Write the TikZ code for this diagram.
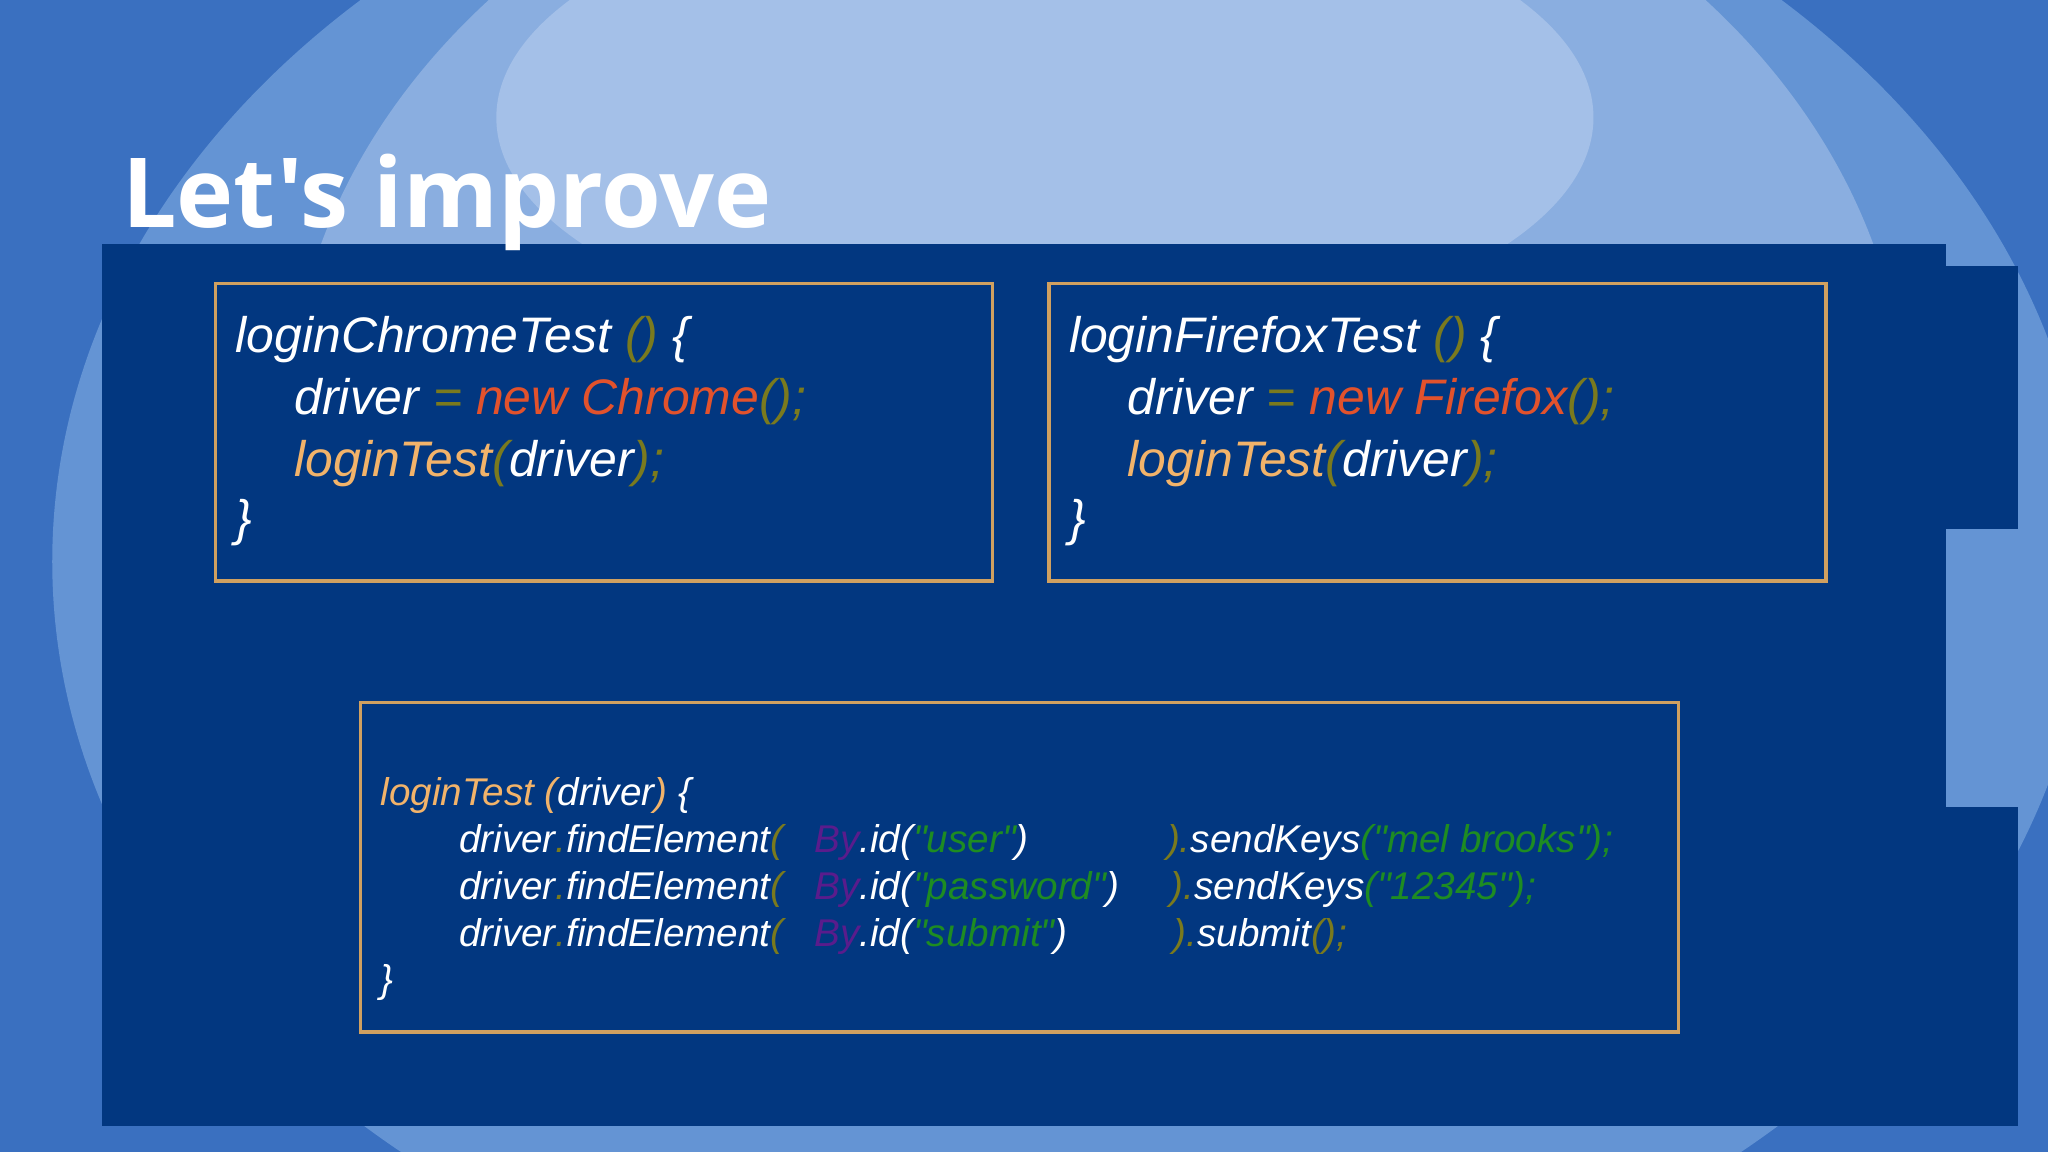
\documentclass[tikz,border=0pt]{standalone}
\usepackage{fontspec}
\setmainfont{Liberation Sans}[Ligatures=TeXOff]
\newfontfamily\titlefont{Open Sans}
\definecolor{bgA}{HTML}{3A70C0}
\definecolor{bgB}{HTML}{A4C0E8}
\definecolor{bgC}{HTML}{6494D4}
\definecolor{panel}{HTML}{023780}
\definecolor{frame}{HTML}{D0A060}
\definecolor{olv}{HTML}{7A7A1E}
\definecolor{nred}{HTML}{E2522C}
\definecolor{lor}{HTML}{F2B36A}
\definecolor{pur}{HTML}{5A1C8C}
\definecolor{grn}{HTML}{1E8C22}
\newcommand{\qq}{\char34\relax}
\tikzset{
 codebox/.style={draw=frame, line width=1pt},
 big/.style={anchor=base west, inner sep=0pt, text=white, font=\fontsize{14.2}{16}\selectfont\itshape},
 small/.style={anchor=base west, inner sep=0pt, text=white, font=\fontsize{11}{13}\selectfont\itshape},
}
\begin{document}
\begin{tikzpicture}[x=0.013061cm,y=-0.013061cm]
\useasboundingbox (0,0) rectangle (1568,882);
\fill[bgA] (0,0) rectangle (1568,882);
\fill[bgC] (820,430) ellipse (780 and 600);
\fill[bgB!60!bgC] (840,330) ellipse (620 and 500);
\fill[bgB] (800,90) ellipse (420 and 180);
\fill[panel] (78,187) rectangle (1490,862);
\fill[panel] (1490,204) rectangle (1545,405);
\fill[panel] (1490,618) rectangle (1545,862);
\node[anchor=base west, inner sep=0pt, text=white, font=\titlefont\bfseries\fontsize{27.5}{33}\selectfont] (title) at (93,174) {Let's improve};
\draw[codebox] (165,217) rectangle (760,445);
\draw[codebox] (803,217) rectangle (1398,445);
\draw[codebox] (276,538) rectangle (1285,790);
% box 1
\node[big] (a1) at (180,270) {loginChromeTest \textcolor{olv}{()} \{};
\node[big] (a2) at (225,317) {driver \textcolor{olv}{=} \textcolor{nred}{new Chrome}\textcolor{olv}{();}};
\node[big] (a3) at (225,365) {\textcolor{lor}{loginTest}\textcolor{olv}{(}driver\textcolor{olv}{);}};
\node[big] (a4) at (180,410) {\}};
% box 2
\node[big] (b1) at (818,270) {loginFirefoxTest \textcolor{olv}{()} \{};
\node[big] (b2) at (863,317) {driver \textcolor{olv}{=} \textcolor{nred}{new Firefox}\textcolor{olv}{();}};
\node[big] (b3) at (863,365) {\textcolor{lor}{loginTest}\textcolor{olv}{(}driver\textcolor{olv}{);}};
\node[big] (b4) at (818,410) {\}};
% box 3
\node[small] (c1) at (291,617) {\textcolor{lor}{loginTest (}driver\textcolor{lor}{)} \{};
\node[small] (c2) at (351,653) {driver\textcolor{olv}{.}findElement\textcolor{olv}{(}};
\node[small] (c3) at (351,689) {driver\textcolor{olv}{.}findElement\textcolor{olv}{(}};
\node[small] (c4) at (351,725) {driver\textcolor{olv}{.}findElement\textcolor{olv}{(}};
\node[small] (d2) at (623,653) {\textcolor{pur}{By}.id(\textcolor{grn}{\qq user\qq})};
\node[small] (d3) at (623,689) {\textcolor{pur}{By}.id(\textcolor{grn}{\qq password\qq})};
\node[small] (d4) at (623,725) {\textcolor{pur}{By}.id(\textcolor{grn}{\qq submit\qq})};
\node[small] (e2) at (893,653) {\textcolor{olv}{).}sendKeys\textcolor{grn}{(\qq mel brooks\qq);}};
\node[small] (e3) at (896,689) {\textcolor{olv}{).}sendKeys\textcolor{grn}{(\qq 12345\qq);}};
\node[small] (e4) at (898,725) {\textcolor{olv}{).}submit\textcolor{olv}{();}};
\node[small] (c5) at (291,760) {\}};
\end{tikzpicture}
\end{document}
